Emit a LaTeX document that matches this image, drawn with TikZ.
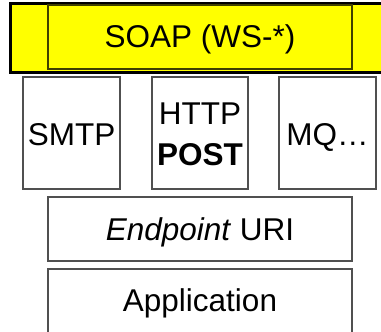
\documentclass[tikz,border=0pt]{standalone}
\usepackage{fontspec}
\setmainfont{Liberation Sans}
\definecolor{soapyellow}{RGB}{255,255,0}
\definecolor{innerline}{RGB}{64,64,0}
\definecolor{boxline}{RGB}{80,80,80}
\begin{document}
\begin{tikzpicture}[x=1pt,y=-1pt,
  layerbox/.style={draw=boxline,line width=1.5pt,fill=white,inner sep=0pt},
  lbl/.style={inner sep=0pt,anchor=base,font=\fontsize{31.5}{38}\selectfont}]
\useasboundingbox (0,0) rectangle (381,332);
\clip (0,0) rectangle (381,332);
% SOAP band
\path[draw=black,line width=3pt,fill=soapyellow] (10.5,3.5) rectangle (390,72);
\node[draw=innerline,line width=1.5pt,fill=soapyellow,inner sep=0pt,
  minimum width=304pt,minimum height=64pt] (soap) at (200,37) {};
\node[lbl] (soapt) at (200,48) {SOAP (WS-*)};
% transport boxes
\node[layerbox,minimum width=97pt,minimum height=112pt] (smtp) at (71.7,133) {};
\node[lbl] (smtpt) at (71.7,145) {SMTP};
\node[layerbox,minimum width=96pt,minimum height=112pt] (http) at (200,133) {};
\node[lbl] (httpt) at (200,124) {HTTP};
\node[lbl,font=\fontsize{31.5}{38}\selectfont\bfseries] (postt) at (200,165) {POST};
\node[layerbox,minimum width=97pt,minimum height=112pt] (mq) at (327.5,133) {};
\node[lbl] (mqt) at (327.5,145) {MQ…};
% endpoint
\node[layerbox,minimum width=304pt,minimum height=64pt] (ep) at (200,229) {};
\node[lbl] (ept) at (200,240) {\textit{Endpoint} URI};
% application
\node[layerbox,minimum width=304pt,minimum height=80pt] (app) at (200,309) {};
\node[lbl] (appt) at (200,311) {Application};
\end{tikzpicture}
\end{document}
